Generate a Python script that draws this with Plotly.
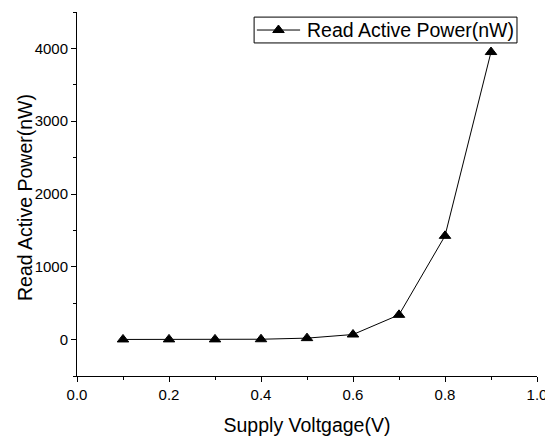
import plotly.graph_objects as go

# Supply voltage sweep and measured read active power
voltage = [0.1, 0.2, 0.3, 0.4, 0.5, 0.6, 0.7, 0.8, 0.9]
power_nw = [2, 3, 3, 5, 20, 70, 340, 1425, 3950]

x_ticks = [0.0, 0.2, 0.4, 0.6, 0.8, 1.0]
x_tick_text = ["0.0", "0.2", "0.4", "0.6", "0.8", "1.0"]
y_ticks = [0, 1000, 2000, 3000, 4000]

series_name = "Read Active Power(nW)"
family = "Arial, Liberation Sans, sans-serif"
axis_font = dict(family=family, size=19.5, color="black")
tick_font = dict(family=family, size=15, color="black")
marker_style = dict(symbol="triangle-up", size=10, color="black",
                    line=dict(color="black", width=1))

# Legend box, in plot-area fractions
leg_x0, leg_x1 = 0.385, 0.9565
leg_y0, leg_y1 = 0.915, 0.986
leg_mid = (leg_y0 + leg_y1) / 2
sample_x0, sample_x1 = 0.391, 0.485
text_x = 0.495

fig = go.Figure()
fig.add_trace(go.Scatter(
    x=voltage, y=power_nw,
    mode="lines+markers",
    name=series_name,
    line=dict(color="black", width=1),
    marker=marker_style,
    showlegend=False,
))

# Legend sample marker on an overlay axis spanning the plot area
fig.add_trace(go.Scatter(
    x=[(sample_x0 + sample_x1) / 2], y=[leg_mid],
    xaxis="x2", yaxis="y2",
    mode="markers", marker=marker_style,
    showlegend=False, hoverinfo="skip",
))

fig.add_shape(type="rect", xref="paper", yref="paper",
              x0=leg_x0, x1=leg_x1, y0=leg_y0, y1=leg_y1,
              line=dict(color="black", width=1), fillcolor="rgba(0,0,0,0)")
fig.add_shape(type="line", xref="paper", yref="paper",
              x0=sample_x0, x1=sample_x1, y0=leg_mid, y1=leg_mid,
              line=dict(color="black", width=1))
fig.add_annotation(text=series_name, xref="paper", yref="paper",
                   x=text_x, y=leg_mid, xanchor="left", yanchor="middle",
                   showarrow=False, font=axis_font)

# Y axis title
fig.add_annotation(text=series_name, xref="paper", yref="paper",
                   x=-0.113, y=0.489, xanchor="center", yanchor="middle",
                   textangle=-90, showarrow=False, font=axis_font)

fig.update_layout(
    width=545, height=436,
    margin=dict(l=77, r=8, t=12, b=60),
    paper_bgcolor="white", plot_bgcolor="white",
    showlegend=False,
    xaxis=dict(
        range=[0, 1.0], tickvals=x_ticks, ticktext=x_tick_text,
        showgrid=False, zeroline=False, automargin=False,
        showline=True, linecolor="black", linewidth=1,
        ticks="outside", ticklen=5, tickcolor="black",
        minor=dict(dtick=0.1, ticks="outside", ticklen=3, tickcolor="black"),
        tickfont=tick_font, ticklabeloverflow="allow",
        title=dict(text="Supply Voltgage(V)", font=axis_font, standoff=16),
    ),
    yaxis=dict(
        range=[-500, 4500], tickvals=y_ticks,
        showgrid=False, zeroline=False, automargin=False,
        showline=True, linecolor="black", linewidth=1,
        ticks="outside", ticklen=5, tickcolor="black",
        minor=dict(dtick=500, tick0=0, ticks="outside", ticklen=3, tickcolor="black"),
        tickfont=tick_font,
    ),
    xaxis2=dict(range=[0, 1], overlaying="x", visible=False, fixedrange=True),
    yaxis2=dict(range=[0, 1], overlaying="y", visible=False, fixedrange=True),
)

fig.write_html("out.html")
